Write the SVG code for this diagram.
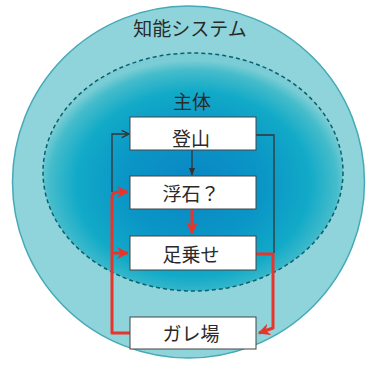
<svg xmlns="http://www.w3.org/2000/svg" width="366" height="369" viewBox="0 0 366 369">
<defs>
<radialGradient id="core" cx="0.5" cy="0.55" r="0.52">
<stop offset="0" stop-color="#0a86c4"/>
<stop offset="0.45" stop-color="#0a96c6"/>
<stop offset="0.75" stop-color="#12aac8"/>
<stop offset="0.92" stop-color="#45bccb"/>
<stop offset="1" stop-color="#7acdd5"/>
</radialGradient>
<marker id="ar" viewBox="0 0 10 10" refX="9" refY="5" markerWidth="4" markerHeight="4" orient="auto" markerUnits="strokeWidth">
<path d="M0,0 L10,5 L0,10 L3,5 Z" fill="#e8342a"/>
</marker>
<marker id="ak" viewBox="0 0 10 10" refX="9" refY="5" markerWidth="7" markerHeight="7" orient="auto" markerUnits="strokeWidth">
<path d="M1,1 L9,5 L1,9" fill="none" stroke="#333" stroke-width="1.5"/>
</marker>
<marker id="akf" viewBox="0 0 10 10" refX="9" refY="5" markerWidth="6" markerHeight="6" orient="auto" markerUnits="strokeWidth">
<path d="M0,1 L10,5 L0,9 Z" fill="#333"/>
</marker>
</defs>
<style>
.box{fill:#fff;stroke:#444;stroke-width:1}
.t{font-family:"Noto Sans CJK JP","Noto Sans CJK SC",sans-serif;font-size:19px;fill:#2a2a2a;text-anchor:middle}
.blk{fill:none;stroke:#333;stroke-width:1.3}
.red{fill:none;stroke:#e8342a;stroke-width:3;stroke-linejoin:round}
</style>
<g id="system">
<circle cx="188.5" cy="182" r="176" fill="#8fd4da" stroke="#45a9b6" stroke-width="1.5"/>
<text class="t" x="190" y="36">知能システム</text>
</g>
<g id="subject">
<ellipse cx="193" cy="172" rx="150" ry="119" fill="url(#core)" stroke="#0b5f6e" stroke-width="1.5" stroke-dasharray="4,3"/>
<text class="t" x="192" y="109">主体</text>
</g>
<g id="connectors">
<path class="blk" d="M112,192 V134 H129" marker-end="url(#ak)"/>
<path class="blk" d="M256,135 H274 V253"/>
<path class="blk" d="M192,150 V175" marker-end="url(#akf)"/>
<path class="red" d="M192,209 V233" marker-end="url(#ar)"/>
<path class="red" d="M256,254 H273 V328 L259,333" marker-end="url(#ar)"/>
<path class="red" d="M130,333 H112 V197 Q112,192 118,192 H128" marker-end="url(#ar)"/>
<path class="red" d="M112,253 H128" marker-end="url(#ar)"/>
</g>
<g id="n1"><rect class="box" x="130" y="117" width="126" height="33"/><text class="t" x="191" y="146">登山</text></g>
<g id="n2"><rect class="box" x="130" y="176" width="126" height="33"/><text class="t" x="191" y="201">浮石？</text></g>
<g id="n3"><rect class="box" x="130" y="236" width="126" height="34"/><text class="t" x="191" y="262">足乗せ</text></g>
<g id="n4"><rect class="box" x="130" y="317" width="126" height="32"/><text class="t" x="191" y="341">ガレ場</text></g>
</svg>
